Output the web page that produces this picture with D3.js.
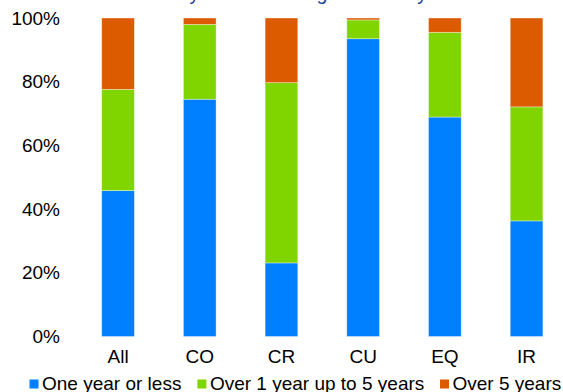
<!DOCTYPE html>
<html>
<head>
<meta charset="utf-8">
<script src="https://cdn.jsdelivr.net/npm/d3@7"></script>
<style>
  html, body { margin: 0; padding: 0; background: #fff; }
  svg { display: block; font-family: "Liberation Sans", Arial, sans-serif; }
</style>
</head>
<body>
<svg id="chart" width="563" height="392"></svg>
<script>
const categories = ["All", "CO", "CR", "CU", "EQ", "IR"];
const seriesNames = ["One year or less", "Over 1 year up to 5 years", "Over 5 years"];
const oneYearOrLess = [45.8, 74.5, 23.1, 93.5, 68.9, 36.3];
const oneToFiveYears = [31.8, 23.5, 56.6, 5.9, 26.6, 35.8];
const overFiveYears = [22.4, 2.0, 20.3, 0.6, 4.5, 27.9];
const yTicks = [0, 20, 40, 60, 80, 100];
const colors = ["#0080ff", "#80d400", "#dc5a00"];
const titleText = "Maturity of outstanding notional by asset class";

const svg = d3.select("#chart");
const W = 563, H = 392;
const margin = { top: 18, bottom: 55.5, left: 77.2 };
const plotBottom = H - margin.bottom;

const x = d3.scaleBand().domain(categories).range([77.2, 567.4]).paddingInner(0.6).paddingOuter(0.3);
const y = d3.scaleLinear().domain([0, 100]).range([plotBottom, margin.top]);

const rows = categories.map((c, i) => ({ cat: c, s0: oneYearOrLess[i], s1: oneToFiveYears[i], s2: overFiveYears[i] }));
const stacked = d3.stack().keys(["s0", "s1", "s2"])(rows);

// title (cut off at top, only descenders visible as in the reference)
svg.append("text")
  .attr("x", 130).attr("y", -0.5)
  .attr("font-size", 19.5).attr("fill", "#1c3f94")
  .text(titleText);

// bars
svg.append("g").selectAll("g").data(stacked).join("g")
  .attr("fill", (d, i) => colors[i])
  .selectAll("rect").data(d => d).join("rect")
  .attr("x", d => x(d.data.cat))
  .attr("width", x.bandwidth())
  .attr("y", d => y(d[1]))
  .attr("height", d => y(d[0]) - y(d[1]))
  .attr("stroke", "rgba(255,255,255,0.45)")
  .attr("stroke-width", 0.8);

// y axis
const yAxis = d3.axisLeft(y).tickValues(yTicks).tickFormat(d => d + "%").tickSize(0).tickPadding(0);
const gy = svg.append("g").attr("transform", "translate(60,0)").call(yAxis);
gy.select(".domain").remove();
gy.selectAll("text").attr("font-size", 19).attr("fill", "#000").attr("font-family", "Liberation Sans, Arial, sans-serif");

// x axis
const xAxis = d3.axisBottom(x).tickSize(0).tickPadding(0);
const gx = svg.append("g").attr("transform", `translate(0,${plotBottom})`).call(xAxis);
gx.select(".domain").remove();
gx.selectAll("text").attr("dy", null).attr("y", 26.5).attr("font-size", 19).attr("fill", "#000").attr("font-family", "Liberation Sans, Arial, sans-serif");

// legend
const legendX = [29.5, 197.4, 440];
const lg = svg.append("g");
seriesNames.forEach((name, i) => {
  lg.append("rect").attr("x", legendX[i]).attr("y", 379.5).attr("width", 9).attr("height", 9).attr("fill", colors[i]);
  lg.append("text").attr("x", legendX[i] + 12.5).attr("y", 389.5).attr("font-size", 19).attr("fill", "#000").text(name);
});
</script>
</body>
</html>
